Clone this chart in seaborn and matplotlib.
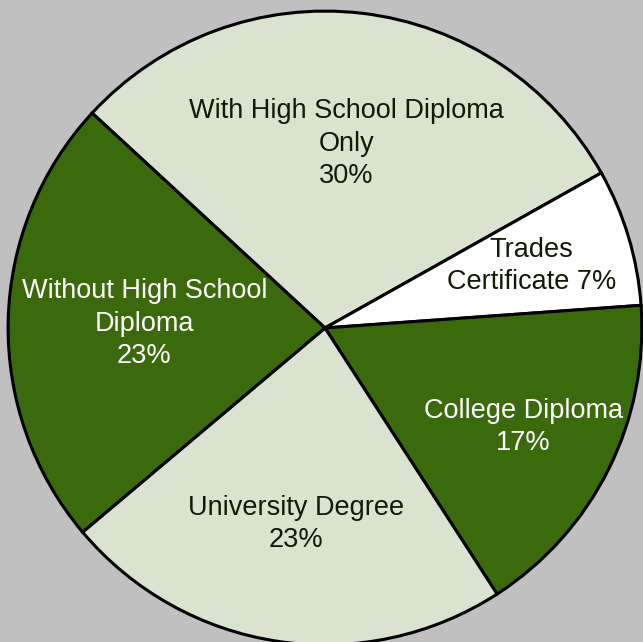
import matplotlib
matplotlib.use("Agg")
import matplotlib.pyplot as plt
import seaborn as sns
import numpy as np

sns.set_theme(style="white")
plt.rcParams['font.family'] = ['Liberation Sans', 'DejaVu Sans']

labels = ["With High School Diploma\nOnly", "Trades\nCertificate", "College Diploma",
          "University Degree", "Without High School\nDiploma"]
values = [30, 7, 17, 23, 23]
pct_text = ["30%", "7%", "17%", "23%", "23%"]
joiner = ["\n", " ", "\n", "\n", "\n"]

colors = ["#DAE3D0", "#FFFFFF", "#3A6A0B", "#DAE3D0", "#3A6A0B"]
text_colors = ["#101A05", "#101A05", "#FFFFFF", "#101A05", "#FFFFFF"]
label_dist = [0.585, 0.68, 0.70, 0.625, 0.57]

fig = plt.figure(figsize=(6.43, 6.42), dpi=100)
fig.patch.set_facecolor("#C0C0C0")
ax = fig.add_axes([0, 0, 1, 1])
ax.set_facecolor("#C0C0C0")

wedges, _ = ax.pie(values, colors=colors, startangle=137.3, counterclock=False,
                   wedgeprops=dict(edgecolor="black", linewidth=2.2))

for w, lab, p, j, tc, d in zip(wedges, labels, pct_text, joiner, text_colors, label_dist):
    ang = np.deg2rad((w.theta1 + w.theta2) / 2)
    ax.text(d * np.cos(ang), d * np.sin(ang), lab + j + p, ha="center", va="center",
            fontsize=19.5, color=tc, linespacing=1.33)

ax.set_xlim(-1.025, 1.003)
ax.set_ylim(-0.991, 1.035)
ax.set_aspect("equal")
ax.axis("off")

fig.savefig("out.png", dpi=100, facecolor=fig.get_facecolor())
